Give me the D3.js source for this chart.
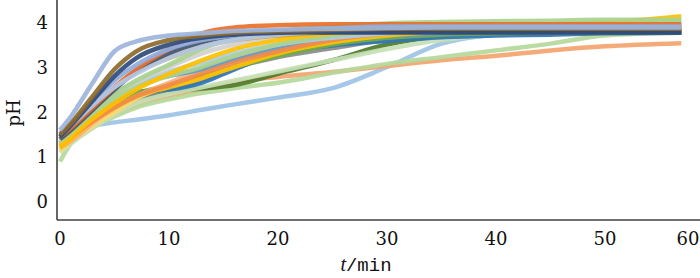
<!DOCTYPE html>
<html><head><meta charset="utf-8">
<script src="https://cdn.jsdelivr.net/npm/d3@7/dist/d3.min.js"></script>
<style>
html,body{margin:0;padding:0;background:#fff;}
svg{display:block;}
</style></head>
<body>
<svg id="chart" width="700" height="278"></svg>
<script>
// sample times (min)
const times = [0,1,3,5,7,10,13,16,20,25,30,35,40,45,50,57];
const xTicks = [0,10,20,30,40,50,60];
const yTicks = [0,1,2,3,4];

// series pH values at the sample times
const sLowBlue   = [1.55,1.65,1.70,1.77,1.83,1.93,2.05,2.17,2.32,2.53,3.00,3.52,3.73,3.82,3.85,3.87];
const sLowOrange = [1.30,1.40,1.70,1.95,2.15,2.35,2.50,2.67,2.78,2.89,3.02,3.15,3.25,3.37,3.46,3.53];
const sLowGreen  = [0.90,1.30,1.65,1.90,2.10,2.28,2.42,2.53,2.65,2.87,3.07,3.22,3.37,3.52,3.70,3.76];
const sDarkGreen = [1.30,1.50,1.90,2.15,2.30,2.45,2.52,2.60,2.85,3.15,3.50,3.68,3.74,3.77,3.78,3.80];
const sGray      = [1.30,1.45,1.80,2.05,2.25,2.45,2.70,2.98,3.22,3.42,3.60,3.70,3.74,3.76,3.77,3.78];
const sPaleGreen = [1.10,1.30,1.65,1.95,2.20,2.40,2.55,2.70,2.90,3.15,3.40,3.60,3.72,3.76,3.78,3.80];
const sSteelBlue = [1.40,1.60,1.95,2.20,2.45,2.50,2.65,2.95,3.30,3.48,3.58,3.66,3.70,3.72,3.75,3.76];
const sGreen     = [1.30,1.50,1.85,2.15,2.40,2.60,2.80,3.00,3.25,3.50,3.65,3.72,3.75,3.77,3.78,3.80];
const sLtYellow  = [1.15,1.35,1.70,2.00,2.30,2.60,2.90,3.15,3.40,3.60,3.72,3.80,3.82,3.82,3.82,3.82];
const sLtOrange  = [1.20,1.35,1.75,2.10,2.35,2.65,2.95,3.20,3.45,3.65,3.78,3.83,3.85,3.85,3.86,3.86];
const sBlue      = [1.45,1.65,2.05,2.40,2.65,2.80,2.95,3.15,3.40,3.60,3.70,3.75,3.78,3.80,3.80,3.80];
const sYellow2   = [1.20,1.40,1.80,2.10,2.35,2.55,2.75,3.00,3.30,3.55,3.70,3.78,3.80,3.80,3.80,3.82];
const sOrange2   = [1.25,1.45,1.80,2.10,2.35,2.60,2.85,3.10,3.35,3.60,3.75,3.82,3.85,3.88,3.90,3.92];
const sLtBlue    = [1.40,1.60,1.95,2.30,2.60,2.90,3.10,3.30,3.50,3.65,3.75,3.80,3.85,3.86,3.87,3.88];
const sLtGray    = [1.30,1.50,1.95,2.35,2.65,3.00,3.30,3.50,3.65,3.75,3.80,3.82,3.83,3.84,3.85,3.85];
const sGreen2    = [1.35,1.55,1.95,2.30,2.55,2.80,3.00,3.25,3.50,3.70,3.80,3.85,3.90,3.95,4.00,4.02];
const sYellow    = [1.25,1.45,1.85,2.20,2.50,2.85,3.15,3.40,3.60,3.75,3.82,3.85,3.87,3.90,3.98,4.13];
const sGold      = [1.40,1.62,2.10,2.55,2.90,3.20,3.45,3.60,3.70,3.78,3.82,3.84,3.85,3.85,3.85,3.85];
const sTopGreen  = [1.35,1.55,2.00,2.40,2.70,3.05,3.40,3.65,3.80,3.90,3.97,4.00,4.02,4.03,4.05,4.05];
const sSlate     = [1.40,1.60,2.05,2.50,2.90,3.30,3.55,3.70,3.75,3.77,3.77,3.77,3.77,3.77,3.77,3.77];
const sTopOrange = [1.45,1.65,2.10,2.55,2.95,3.40,3.75,3.88,3.93,3.95,3.95,3.95,3.95,3.95,3.95,3.95];
const sBlueGray  = [1.50,1.72,2.20,2.70,3.05,3.40,3.60,3.70,3.80,3.86,3.90,3.90,3.90,3.90,3.90,3.90];
const sBlueGray2 = [1.50,1.70,2.15,2.55,2.85,3.20,3.45,3.60,3.72,3.80,3.85,3.86,3.86,3.86,3.86,3.86];
const sNavy      = [1.45,1.70,2.25,2.80,3.20,3.50,3.65,3.72,3.76,3.78,3.78,3.78,3.78,3.78,3.78,3.78];
const sBrown     = [1.50,1.75,2.35,2.95,3.35,3.60,3.70,3.76,3.80,3.83,3.85,3.85,3.85,3.85,3.85,3.85];
const sOuterBlue = [1.60,1.90,2.65,3.35,3.57,3.70,3.75,3.80,3.83,3.85,3.87,3.88,3.88,3.88,3.88,3.88];

const seriesList = [
  sLowBlue, sLowOrange, sLowGreen, sDarkGreen, sGray, sPaleGreen, sSteelBlue, sGreen,
  sLtYellow, sLtOrange, sBlue, sYellow2, sOrange2, sLtBlue, sLtGray, sGreen2, sYellow,
  sGold, sTopGreen, sSlate, sTopOrange, sBlueGray, sBlueGray2, sNavy, sBrown, sOuterBlue
];
const seriesColors = [
  "#9dc3e6", "#f4a46e", "#b4d89a", "#4f7a2a", "#8a8a8a", "#c5e0b4", "#2e75b6", "#70ad47",
  "#ffd966", "#f4b183", "#5b9bd5", "#ffc000", "#f08a4b", "#a9cdeb", "#d0d0d0", "#a9d18e", "#ffc000",
  "#d4a017", "#a9d18e", "#44546a", "#e8702a", "#8faadc", "#b4c7e7", "#2f4b7c", "#8c6a2a", "#9db4dc"
];

const svg = d3.select("#chart");
const x = d3.scaleLinear().domain([0, 60]).range([60, 714]);
const y = d3.scaleLinear().domain([-0.4, 4.49]).range([220, 0]);

const line = d3.line()
  .x((d, i) => x(times[i]))
  .y(d => y(d))
  .curve(d3.curveMonotoneX);

svg.append("g").selectAll("path")
  .data(seriesList)
  .join("path")
  .attr("d", d => line(d))
  .attr("fill", "none")
  .attr("stroke", (d, i) => seriesColors[i])
  .attr("stroke-width", 4.5)
  .attr("stroke-linejoin", "round")
  .attr("stroke-opacity", 0.92);

// axes lines
svg.append("line").attr("x1", 57).attr("x2", 57).attr("y1", 0).attr("y2", 220)
  .attr("stroke", "#404040").attr("stroke-width", 1.6);
svg.append("line").attr("x1", 57).attr("x2", 700).attr("y1", 220).attr("y2", 220)
  .attr("stroke", "#404040").attr("stroke-width", 1.6);

const font = "'DejaVu Serif', 'Liberation Serif', serif";

// y tick labels
svg.append("g").selectAll("text")
  .data(yTicks).join("text")
  .attr("x", 48)
  .attr("y", d => y(d))
  .attr("dy", "0.36em")
  .attr("text-anchor", "end")
  .attr("font-family", font)
  .attr("font-size", 18)
  .attr("fill", "#111")
  .text(d => d);

// x tick labels
svg.append("g").selectAll("text")
  .data(xTicks).join("text")
  .attr("x", d => Math.min(x(d), 688))
  .attr("y", 245)
  .attr("text-anchor", "middle")
  .attr("font-family", font)
  .attr("font-size", 18)
  .attr("fill", "#111")
  .text(d => d);

// axis titles
svg.append("text")
  .attr("transform", "translate(20,113) rotate(-90)")
  .attr("text-anchor", "middle")
  .attr("font-family", font)
  .attr("font-size", 18)
  .attr("fill", "#111")
  .text("pH");

const xt = svg.append("text")
  .attr("x", 366).attr("y", 271)
  .attr("text-anchor", "middle")
  .attr("font-family", "'Liberation Mono', 'DejaVu Sans Mono', monospace")
  .attr("font-size", 19)
  .attr("fill", "#111");
xt.append("tspan").attr("font-family", "'Liberation Serif', serif").attr("font-style", "italic").attr("font-size", 20).text("t");
xt.append("tspan").text("/min");
</script>
</body></html>
